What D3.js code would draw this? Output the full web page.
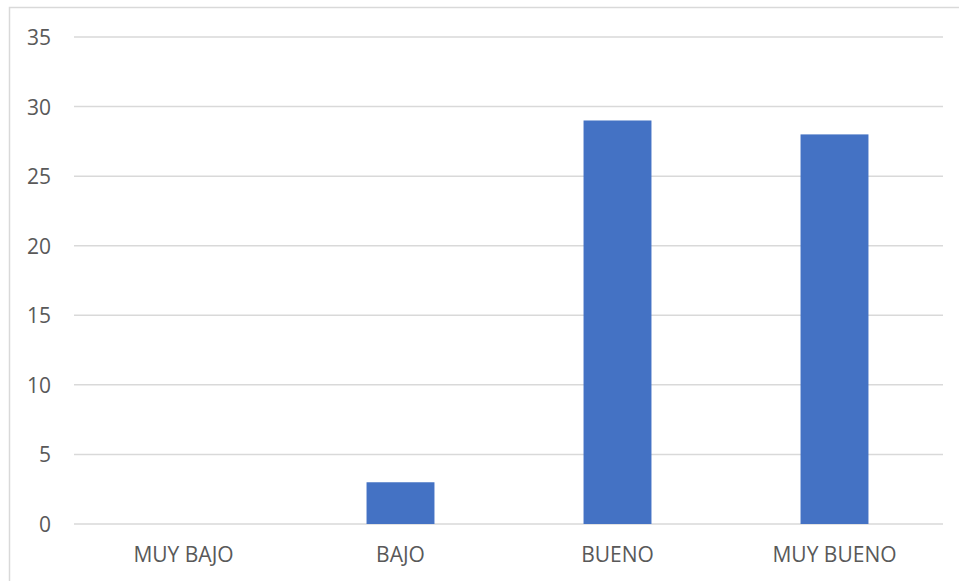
<!DOCTYPE html>
<html><head><meta charset="utf-8">
<script src="https://cdn.jsdelivr.net/npm/d3@7"></script>
<style>body{margin:0;background:#fff}svg{display:block}</style>
</head><body>
<svg id="c" width="959" height="581"></svg>
<script>
const categories = ["MUY BAJO", "BAJO", "BUENO", "MUY BUENO"];
const values = [0, 3, 29, 28];
const yTicks = [0, 5, 10, 15, 20, 25, 30, 35];

const svg = d3.select("#c");
const W = 959, H = 581;
const m = {left: 75, right: 16, top: 37, bottom: 57};

// chart border
svg.append("rect").attr("x", 9.5).attr("y", 7.5).attr("width", 960).attr("height", 600)
  .attr("fill", "none").attr("stroke", "#d9d9d9").attr("stroke-width", 1.5);

const x = d3.scaleBand().domain(categories).range([m.left, W - m.right]).paddingInner(0.687).paddingOuter(0.3435);
const y = d3.scaleLinear().domain([0, 35]).range([H - m.bottom, m.top]);

const font = "'Open Sans', 'Liberation Sans', sans-serif";

// gridlines
svg.append("g").selectAll("line").data(yTicks).join("line")
  .attr("x1", m.left - 1).attr("x2", W - m.right)
  .attr("y1", d => y(d)).attr("y2", d => y(d))
  .attr("stroke", "#d9d9d9").attr("stroke-width", 1.5);

// bars
svg.append("g").selectAll("rect").data(values).join("rect")
  .attr("x", (d, i) => x(categories[i]))
  .attr("width", x.bandwidth())
  .attr("y", d => y(d))
  .attr("height", d => y(0) - y(d))
  .attr("fill", "#4472c4");

// y axis labels
const yAxis = d3.axisLeft(y).tickValues(yTicks).tickSize(0).tickPadding(0);
const gy = svg.append("g").attr("transform", `translate(51,0)`).call(yAxis);
gy.select(".domain").remove();
gy.selectAll("text").attr("font-family", font).attr("font-size", 21).attr("fill", "#595959")
  .attr("dy", "0.36em");

// x axis labels
const xAxis = d3.axisBottom(x).tickSize(0).tickPadding(0);
const gx = svg.append("g").attr("transform", `translate(0,${y(0) + 23})`).call(xAxis);
gx.select(".domain").remove();
gx.selectAll("text").attr("font-family", font).attr("font-size", 21).attr("fill", "#595959")
  .attr("dy", "0.71em");
</script>
</body></html>
